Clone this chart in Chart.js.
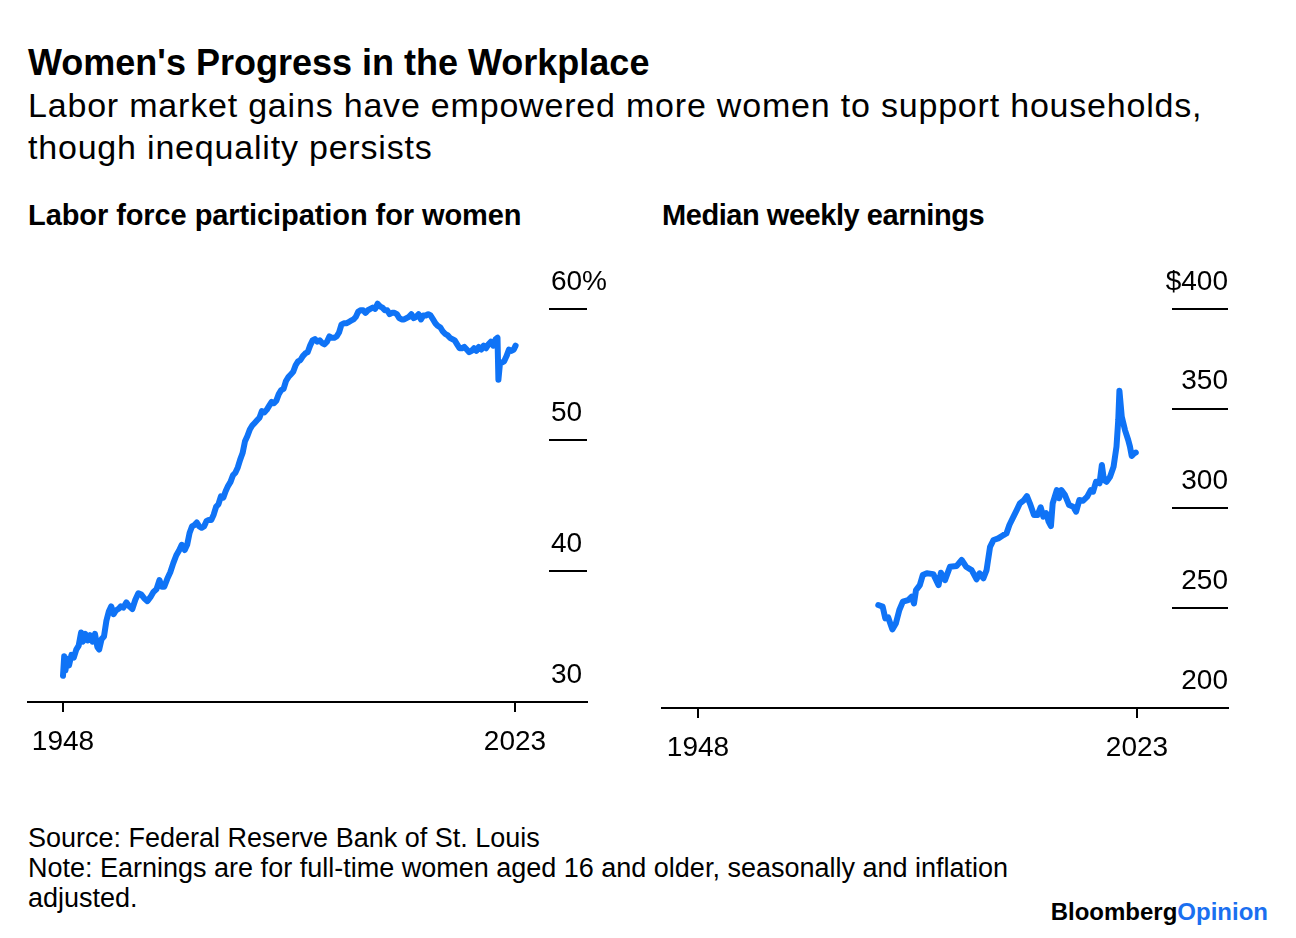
<!DOCTYPE html>
<html>
<head>
<meta charset="utf-8">
<script src="https://cdn.jsdelivr.net/npm/chart.js@4.4.0/dist/chart.umd.min.js"></script>
<style>
  html, body { margin: 0; padding: 0; background: #fff; }
  body { width: 1296px; height: 938px; position: relative; overflow: hidden; font-family: 'Liberation Sans', Arial, sans-serif; color: #000; }
  .abs { position: absolute; white-space: nowrap; }
  #title { left: 28px; top: 43px; font-size: 36px; line-height: 40px; font-weight: bold; }
  #subtitle { left: 28px; top: 84px; font-size: 34px; line-height: 42px; letter-spacing: 0.8px; }
  .ctitle { top: 199px; font-size: 29px; line-height: 32px; font-weight: bold; letter-spacing: -0.08px; }
  #footer { left: 28px; top: 823px; font-size: 27px; line-height: 30px; }
  #logo { right: 28px; top: 898px; font-size: 24px; line-height: 28px; font-weight: bold; letter-spacing: 0px; }
  #logo span { color: #1a6ff0; }
  canvas { position: absolute; }
</style>
</head>
<body>
<div id="title" class="abs">Women's Progress in the Workplace</div>
<div id="subtitle" class="abs">Labor market gains have empowered more women to support households,<br>though inequality persists</div>
<div class="abs ctitle" style="left:28px">Labor force participation for women</div>
<div class="abs ctitle" style="left:662px;letter-spacing:-0.45px">Median weekly earnings</div>
<canvas id="c1" width="640" height="520" style="left:0;top:250px"></canvas>
<canvas id="c2" width="656" height="520" style="left:640px;top:250px"></canvas>
<div id="footer" class="abs">Source: Federal Reserve Bank of St. Louis<br>Note: Earnings are for full-time women aged 16 and older, seasonally and inflation<br>adjusted.</div>
<div id="logo" class="abs">Bloomberg<span>Opinion</span></div>
<script>
// ---- Data ----
const xTickYears = [1948, 2023];

const lfprYears = [
  1948.0,1948.2,1948.4,1948.7,1949.0,1949.4,1949.8,1950.2,1950.6,1951.0,1951.3,1951.7,1952.1,1952.5,1952.9,1953.3,1953.7,1954.0,1954.4,1954.8,
  1955.2,1955.6,1956.0,1956.4,1956.8,1957.2,1957.6,1958.0,1958.5,1959.0,1959.5,1960.0,1960.5,1961.0,1961.5,1962.0,1962.5,1963.0,1963.5,1964.0,
  1964.4,1964.8,1965.3,1965.8,1966.3,1966.8,1967.3,1967.7,1968.2,1968.6,1969.0,1969.4,1969.8,1970.2,1970.6,1971.0,1971.4,1971.8,1972.2,1972.6,
  1973.0,1973.4,1973.8,1974.2,1974.6,1975.0,1975.4,1975.8,1976.2,1976.6,1977.0,1977.4,1977.8,1978.2,1978.6,1979.0,1979.4,1979.8,1980.2,1980.6,
  1981.0,1981.4,1981.8,1982.2,1982.6,1983.0,1983.4,1983.8,1984.2,1984.6,1985.0,1985.4,1985.8,1986.2,1986.6,1987.0,1987.4,1987.8,1988.2,1988.6,
  1989.0,1989.4,1989.8,1990.2,1990.6,1991.0,1991.4,1991.8,1992.2,1992.6,1993.0,1993.4,1993.8,1994.2,1994.6,1995.0,1995.4,1995.8,1996.2,1996.6,
  1997.0,1997.4,1997.8,1998.2,1998.6,1999.0,1999.4,1999.8,2000.2,2000.6,2001.0,2001.4,2001.8,2002.2,2002.6,2003.0,2003.4,2003.8,2004.2,2004.6,
  2005.0,2005.4,2005.8,2006.2,2006.6,2007.0,2007.4,2007.8,2008.2,2008.6,2009.0,2009.4,2009.8,2010.2,2010.6,2011.0,2011.4,2011.8,2012.2,2012.6,
  2013.0,2013.4,2013.8,2014.2,2014.6,2015.0,2015.4,2015.8,2016.2,2016.6,2017.0,2017.4,2017.8,2018.2,2018.6,2019.0,2019.4,2019.8,2020.1,2020.25,
  2020.5,2020.8,2021.2,2021.6,2022.0,2022.4,2022.8,2023.1
];
const lfprValues = [
  32.0,33.5,32.4,33.3,32.8,33.6,33.4,34.0,34.3,35.3,34.6,35.2,34.7,35.1,34.6,35.2,34.2,34.0,34.8,35.0,
  36.2,36.9,37.3,36.7,37.0,37.1,37.3,37.2,37.6,37.3,37.1,37.8,38.3,38.2,37.9,37.7,38.0,38.4,38.6,39.3,
  38.8,38.8,39.4,39.9,40.6,41.2,41.6,42.0,41.6,42.0,42.9,43.4,43.5,43.7,43.4,43.3,43.4,43.8,43.9,43.9,
  44.3,44.9,45.1,45.7,45.6,46.1,46.5,46.8,47.3,47.5,47.9,48.5,49.0,49.9,50.3,50.8,51.1,51.3,51.5,51.7,
  52.2,52.1,52.3,52.6,52.9,52.8,53.0,53.5,53.8,53.9,54.5,54.8,55.0,55.2,55.7,56.0,56.1,56.4,56.6,56.7,
  57.2,57.6,57.7,57.5,57.6,57.4,57.3,57.5,57.9,57.8,57.8,57.9,58.2,58.8,58.9,58.9,59.0,59.1,59.2,59.4,
  59.8,59.9,59.9,59.7,59.9,60.0,60.1,60.0,60.4,60.2,60.1,59.9,59.9,59.6,59.7,59.7,59.6,59.3,59.2,59.2,
  59.3,59.4,59.6,59.3,59.4,59.6,59.2,59.5,59.5,59.6,59.5,59.2,58.9,58.7,58.6,58.3,58.1,58.0,57.8,57.7,
  57.6,57.3,57.0,57.0,57.1,56.9,56.7,56.8,57.0,56.8,57.1,56.9,57.2,57.0,57.3,57.5,57.2,57.7,57.8,54.6,
  55.8,55.9,56.0,56.4,56.9,56.8,56.9,57.2
];
const lfprTicks = [30, 40, 50, 60];

const earnYears = [
  1978.8,1979.55,1980.0,1980.5,1981.2,1981.8,1982.4,1983.0,1983.9,1984.5,1984.9,1985.25,1985.9,1986.4,1987.1,1988.2,1989.1,1989.5,1990.2,1991.05,
  1992.2,1993.05,1993.8,1994.75,1995.6,1996.1,1996.75,1997.3,1997.9,1998.5,1999.3,2000.2,2000.7,2001.2,2001.9,2002.45,2003.0,2003.7,2004.2,2004.7,
  2005.4,2006.0,2006.55,2007.0,2007.5,2007.9,2008.3,2008.6,2009.3,2009.7,2010.1,2010.7,2011.4,2012.1,2012.6,2013.15,2013.8,2014.5,2015.1,2015.5,
  2016.0,2016.6,2017.0,2017.35,2017.8,2018.4,2019.0,2019.5,2019.8,2020.0,2020.4,2020.95,2021.5,2021.8,2022.1,2022.5,2022.8
];
const earnValues = [
  251.6,250.8,244.9,245.4,239.4,242.4,249.1,253.3,254.1,255.8,252.4,259.1,261.6,266.6,267.5,267.1,261.6,267.8,264.1,270.8,
  271.2,274.2,270.8,269.1,264.5,267.5,265.0,269.1,280.8,284.2,285.0,286.7,287.5,291.7,295.9,299.2,302.6,304.2,306.2,302.6,
  296.7,296.7,300.6,295.9,297.6,293.4,291.2,302.6,309.2,305.1,309.2,306.7,301.7,300.9,298.4,304.2,303.9,305.9,309.2,308.4,
  313.4,312.6,321.8,314.3,313.4,315.9,320.9,331.0,344.3,359.0,346.0,339.3,334.3,331.0,326.3,327.6,328.0
];
const earnTicks = [200, 250, 300, 350, 400];

// ---- Styling ----
const LINE = '#0f73f6';
const FONT = "'Liberation Sans', Arial, sans-serif";

const tickSegments = {
  id: 'tickSegments',
  afterDraw(chart, args, opts) {
    const { ctx, chartArea, scales } = chart;
    const y = scales.y;
    ctx.save();
    ctx.strokeStyle = '#000';
    ctx.lineWidth = 2;
    y.ticks.forEach(t => {
      if (t.value === y.min) return;
      const py = Math.round(y.getPixelForValue(t.value));
      ctx.beginPath();
      ctx.moveTo(chartArea.right - opts.length, py);
      ctx.lineTo(chartArea.right, py);
      ctx.stroke();
    });
    ctx.restore();
  }
};

function makeChart(id, years, values, cfg) {
  return new Chart(document.getElementById(id), {
    type: 'line',
    data: {
      datasets: [{
        data: years.map((yr, i) => ({ x: yr, y: values[i] })),
        borderColor: LINE,
        borderWidth: 6,
        pointRadius: 0,
        tension: 0,
        borderJoinStyle: 'round',
        borderCapStyle: 'round'
      }]
    },
    options: {
      responsive: false,
      animation: false,
      devicePixelRatio: 1,
      layout: { padding: cfg.padding },
      plugins: { legend: { display: false }, tooltip: { enabled: false }, tickSegments: { length: cfg.segLen } },
      scales: {
        x: {
          type: 'linear',
          min: cfg.xMin, max: cfg.xMax,
          afterBuildTicks: s => { s.ticks = xTickYears.map(v => ({ value: v })); },
          afterFit: s => { s.height = 50; },
          border: { display: true, color: '#000', width: 2 },
          grid: { drawOnChartArea: false, drawTicks: true, tickLength: 10, color: '#000', lineWidth: 2 },
          ticks: {
            autoSkip: false, maxRotation: 0, padding: 13, color: '#000',
            font: { family: FONT, size: 28 },
            callback: v => String(v)
          }
        },
        y: {
          position: 'right',
          min: cfg.yMin, max: cfg.yMax,
          afterBuildTicks: s => { s.ticks = cfg.yTicks.map(v => ({ value: v })); },
          afterFit: s => { s.width = 0; },
          border: { display: false },
          grid: { display: false },
          ticks: {
            mirror: true,
            crossAlign: cfg.crossAlign,
            padding: cfg.labelPad,
            labelOffset: -27,
            autoSkip: false,
            color: '#000',
            font: { family: FONT, size: 28 },
            callback: cfg.fmt
          }
        }
      }
    },
    plugins: [tickSegments]
  });
}

makeChart('c1', lfprYears, lfprValues, {
  padding: { left: 28, right: 53, top: 30, bottom: 18 },
  xMin: 1942.19, xMax: 2034.95,
  yMin: 30, yMax: 61.69,
  yTicks: lfprTicks,
  segLen: 38,
  crossAlign: 'far',
  labelPad: 20,
  fmt: v => (v === 60 ? '60%' : String(v))
});

makeChart('c2', earnYears, earnValues, {
  padding: { left: 22, right: 68, top: 30, bottom: 12 },
  xMin: 1941.85, xMax: 2038.55,
  yMin: 200, yMax: 414.5,
  yTicks: earnTicks,
  segLen: 56,
  crossAlign: 'near',
  labelPad: 0,
  fmt: v => (v === 400 ? '$400' : String(v))
});
</script>
</body>
</html>
